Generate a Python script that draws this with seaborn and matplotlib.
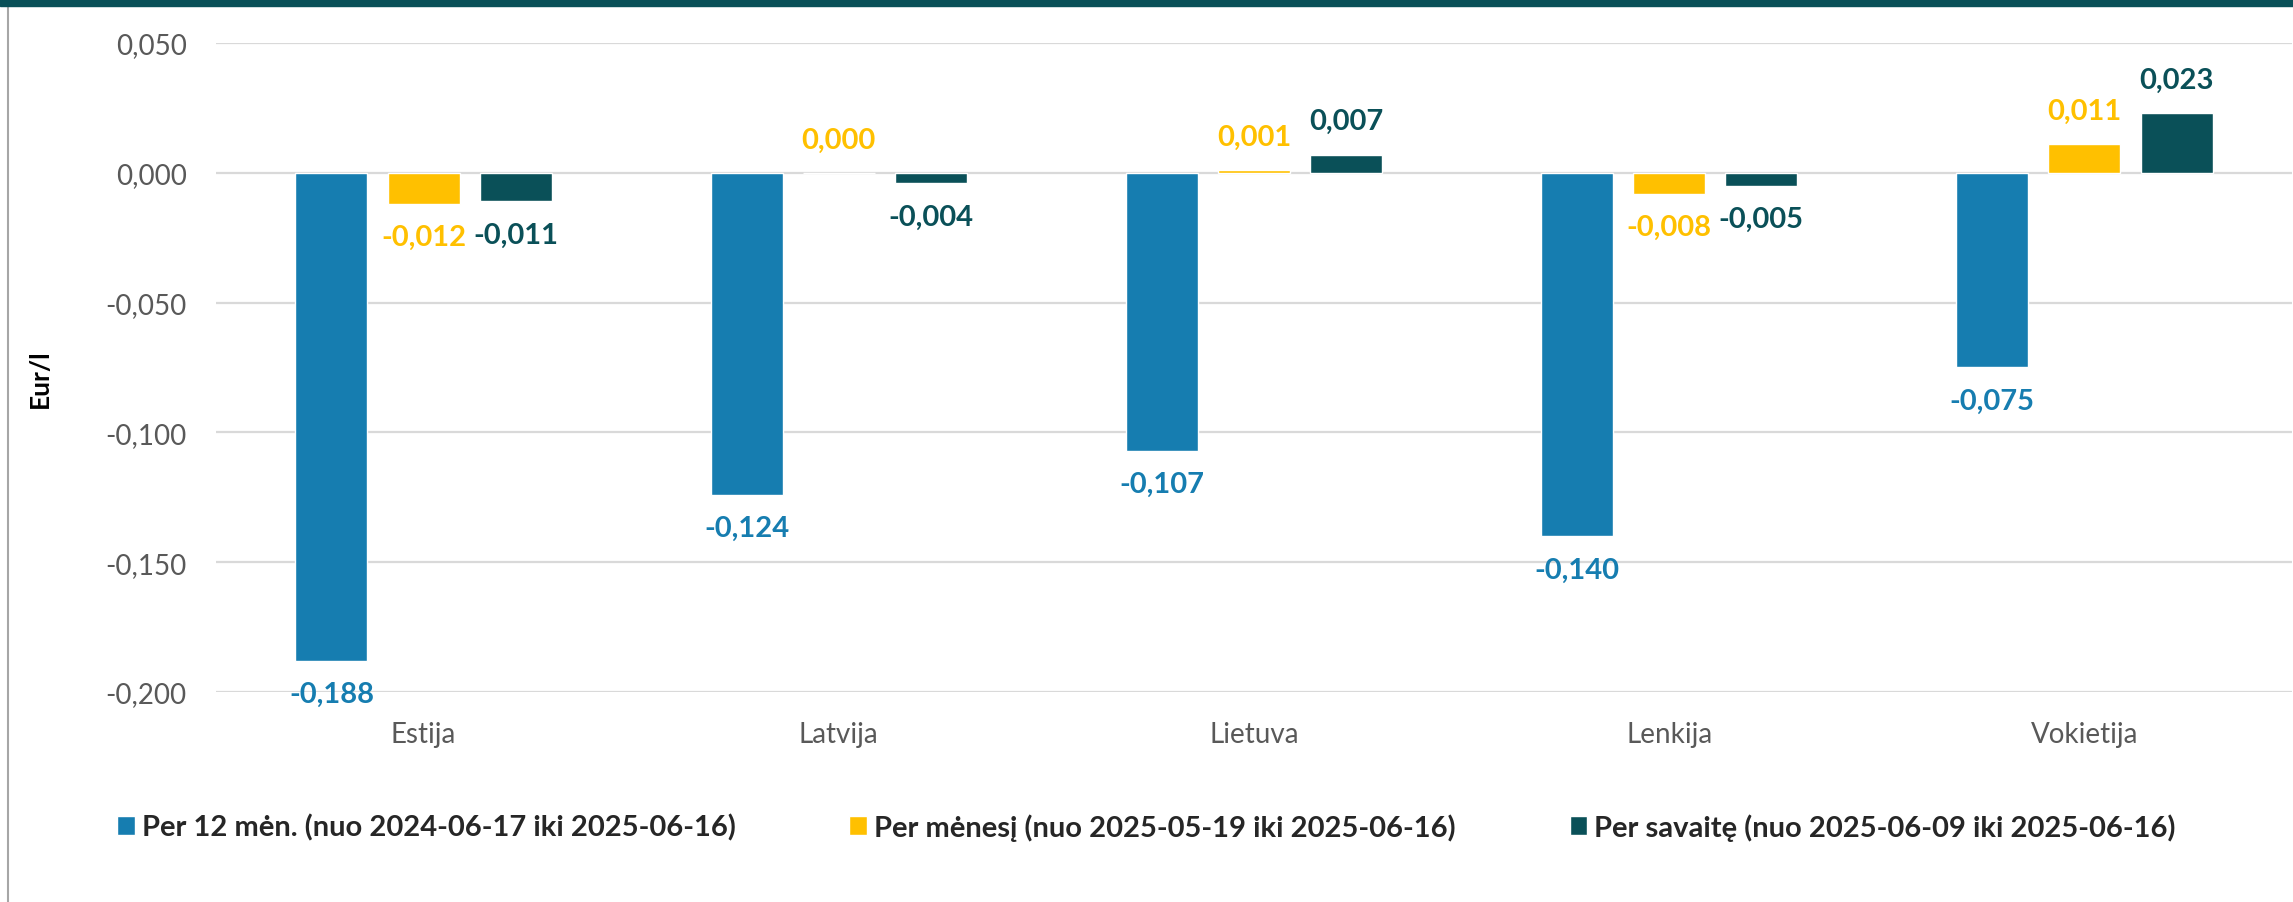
import matplotlib.pyplot as plt
import matplotlib.lines as mlines
import matplotlib.patches as mpatches
import seaborn as sns
import pandas as pd

# Duomenys
salys = ["Estija", "Latvija", "Lietuva", "Lenkija", "Vokietija"]
serijos = [
    "Per 12 mėn. (nuo 2024-06-17 iki 2025-06-16)",
    "Per mėnesį (nuo 2025-05-19 iki 2025-06-16)",
    "Per savaitę (nuo 2025-06-09 iki 2025-06-16)",
]
per_12_men = [-0.188, -0.124, -0.107, -0.140, -0.075]
per_menesi = [-0.012, 0.000, 0.001, -0.008, 0.011]
per_savaite = [-0.011, -0.004, 0.007, -0.005, 0.023]
y_ticks = [0.05, 0.0, -0.05, -0.10, -0.15, -0.20]

spalvos = ["#167DB0", "#FFC000", "#0A5058"]

df = pd.DataFrame({
    "Šalis": salys * 3,
    "Serija": [serijos[0]] * 5 + [serijos[1]] * 5 + [serijos[2]] * 5,
    "Reikšmė": per_12_men + per_menesi + per_savaite,
})

sns.set_style("white")
plt.rcParams["font.family"] = ["Lato", "DejaVu Sans"]

fig = plt.figure(figsize=(22.93, 9.03), dpi=100)
ax = fig.add_axes([216 / 2293, 1 - 693 / 903, 2076 / 2293, 649 / 903])

sns.barplot(data=df, x="Šalis", y="Reikšmė", hue="Serija", palette=spalvos,
            saturation=1, width=0.666, gap=0.22, ax=ax, zorder=3)

ax.set_ylim(-0.2, 0.05)
ax.set_yticks(y_ticks)
ax.set_yticklabels([f"{v:.3f}".replace(".", ",") for v in y_ticks])
ax.grid(axis="y", color="#D9D9D9", linewidth=1.6, zorder=0)
ax.set_axisbelow(True)
for s in ax.spines.values():
    s.set_visible(False)
ax.tick_params(axis="both", length=0, labelsize=20, labelcolor="#595959")
ax.tick_params(axis="y", pad=21)
ax.tick_params(axis="x", pad=21)
ax.set_xlabel("")
ax.set_ylabel("Eur/l", fontsize=19, fontweight="bold", color="black")
ax.yaxis.set_label_coords(-0.079, 0.484)

# Reikšmių etiketės
for cont, spalva in zip(ax.containers, spalvos):
    for bar in cont:
        h = bar.get_height()
        xc = bar.get_x() + bar.get_width() / 2
        dy = 24 if h >= 0 else -24
        ax.annotate(f"{h:.3f}".replace(".", ","), (xc, h), xytext=(0, dy),
                    textcoords="offset points", ha="center", va="center",
                    fontsize=21, fontweight="bold", color=spalva)

# Legenda
handles, labels = ax.get_legend_handles_labels()
ax.get_legend().remove()
fig.legend(handles, labels, loc="center", bbox_to_anchor=(0.5, 1 - 828 / 903),
           ncol=3, frameon=False, handlelength=0.6, handleheight=0.6,
           handletextpad=0.25, columnspacing=3.9,
           prop={"size": 21, "weight": "bold"})

# Rėmelis
fig.patches.append(mpatches.Rectangle((0, 1 - 7 / 903), 1, 7 / 903,
                                      transform=fig.transFigure,
                                      color="#0A5058", zorder=10))
fig.lines.append(mlines.Line2D([8 / 2293, 8 / 2293], [0, 1 - 7 / 903],
                               transform=fig.transFigure,
                               color="#A6A6A6", linewidth=1.5))

fig.savefig("out.png", dpi=100)
